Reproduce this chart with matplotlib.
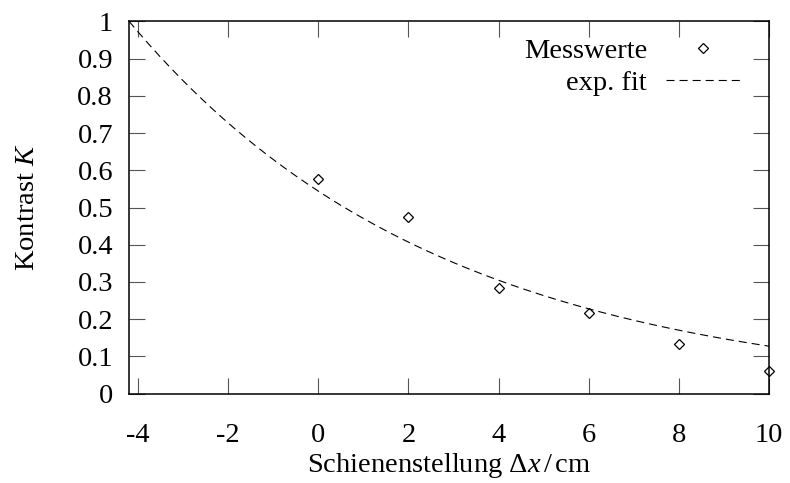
import numpy as np
import matplotlib
matplotlib.use("Agg")
import matplotlib.pyplot as plt

# data
x_meas = [0, 2, 4, 6, 8, 10]
k_meas = [0.576, 0.475, 0.284, 0.216, 0.134, 0.061]
fit_a = 0.544
fit_b = 0.145
x_ticks = [-4, -2, 0, 2, 4, 6, 8, 10]
x_ticklabels = ["-4", "-2", "0", "2", "4", "6", "8", "10"]
y_ticks = [0, 0.1, 0.2, 0.3, 0.4, 0.5, 0.6, 0.7, 0.8, 0.9, 1.0]
y_ticklabels = ["0", "0.1", "0.2", "0.3", "0.4", "0.5", "0.6", "0.7", "0.8", "0.9", "1"]

plt.rcParams["font.family"] = ["Liberation Serif", "DejaVu Serif"]
plt.rcParams["mathtext.fontset"] = "custom"
plt.rcParams["mathtext.rm"] = "Liberation Serif"
plt.rcParams["mathtext.it"] = "Liberation Serif:italic"
plt.rcParams["axes.unicode_minus"] = False
plt.rcParams["lines.scale_dashes"] = False

fs = 20.5
fig = plt.figure(figsize=(7.9, 4.83), dpi=100)
ax = fig.add_axes([129/790, (483-393.7)/483, (769-129)/790, (393.7-21.3)/483])

xf = np.linspace(-4.2, 10, 300)
yf = fit_a * np.exp(-fit_b * xf)

ax.plot(x_meas, k_meas, linestyle="none", marker="D", markersize=5.6,
        markerfacecolor="none", markeredgecolor="black", markeredgewidth=0.9,
        label="Messwerte", clip_on=False, zorder=3)
ax.plot(xf, yf, color="black", linewidth=0.8, dashes=(5.8, 3.6), label="exp. fit")

ax.set_xlim(-4.2, 10)
ax.set_ylim(0, 1)
ax.set_xticks(x_ticks)
ax.set_xticklabels(x_ticklabels)
ax.set_yticks(y_ticks)
ax.set_yticklabels(y_ticklabels)
ax.tick_params(axis="both", direction="in", length=11.5, width=0.8, color="#555555",
               top=True, right=True, labelsize=fs)
ax.tick_params(axis="x", pad=21)
ax.tick_params(axis="y", pad=11.5)
for s in ax.spines.values():
    s.set_linewidth(1.1)

ax.set_xlabel("Schienenstellung $\\Delta x\\,/\\,$cm", fontsize=fs, labelpad=2)
ax.set_ylabel("Kontrast $K$", fontsize=fs, labelpad=27)

leg = ax.legend(loc="upper right", frameon=False, markerfirst=False, fontsize=fs,
                handlelength=2.6, handletextpad=0.67, labelspacing=0.22,
                borderpad=0.0, borderaxespad=0.0, bbox_to_anchor=(0.955, 0.955))

fig.savefig("out.png", dpi=100)
